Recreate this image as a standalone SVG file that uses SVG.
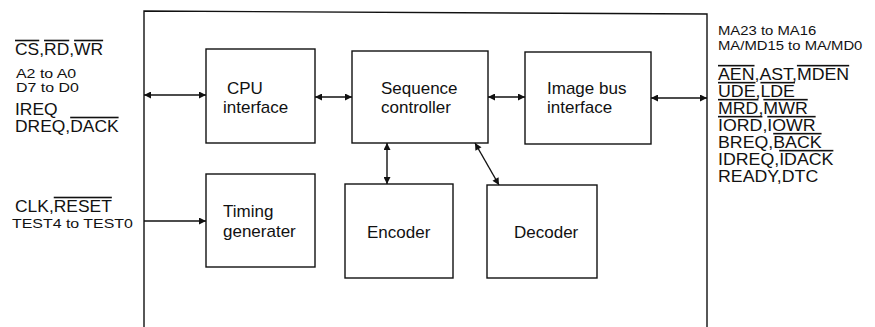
<svg xmlns="http://www.w3.org/2000/svg" width="875" height="327" viewBox="0 0 875 327">
<defs>
<marker id="ah" viewBox="0 0 10 10" refX="10" refY="5" markerWidth="8" markerHeight="7" markerUnits="userSpaceOnUse" orient="auto-start-reverse">
<path d="M0,0 L10,5 L0,10 Z" fill="#111"/>
</marker>
</defs>
<style>
.box{fill:#fff;stroke:#111;stroke-width:1.4}
.frame{fill:none;stroke:#111;stroke-width:1.4}
.con{fill:none;stroke:#111;stroke-width:1.4}
text{font-family:"Liberation Sans",Arial,sans-serif;fill:#111}
.lbl{font-size:17px}
.big{font-size:16px}
.sm{font-size:13.5px}
.ov{text-decoration:overline}
</style>
<rect width="875" height="327" fill="#fff"/>
<path id="frame" class="frame" d="M144,327 L144,11 L707,14 L707,327"/>
<g id="cpu-interface">
<rect class="box" x="206" y="49" width="109" height="94"/>
<text class="lbl" x="227" y="94">CPU</text>
<text class="lbl" x="223" y="113">interface</text>
</g>
<g id="sequence-controller">
<rect class="box" x="352" y="51" width="136" height="92"/>
<text class="lbl" x="381" y="94">Sequence</text>
<text class="lbl" x="381" y="113">controller</text>
</g>
<g id="image-bus-interface">
<rect class="box" x="525" y="52" width="126" height="92"/>
<text class="lbl" x="547" y="94">Image bus</text>
<text class="lbl" x="547" y="113">interface</text>
</g>
<g id="timing-generater">
<rect class="box" x="206" y="174" width="109" height="93"/>
<text class="lbl" x="223" y="217">Timing</text>
<text class="lbl" x="223" y="237">generater</text>
</g>
<g id="encoder">
<rect class="box" x="345" y="184" width="108" height="94"/>
<text class="lbl" x="367" y="238">Encoder</text>
</g>
<g id="decoder">
<rect class="box" x="487" y="185" width="110" height="93"/>
<text class="lbl" x="514" y="238">Decoder</text>
</g>
<g id="connectors">
<line class="con" x1="144" y1="95" x2="206" y2="95" marker-start="url(#ah)" marker-end="url(#ah)"/>
<line class="con" x1="315" y1="97" x2="352" y2="97" marker-start="url(#ah)" marker-end="url(#ah)"/>
<line class="con" x1="488" y1="97" x2="525" y2="97" marker-start="url(#ah)" marker-end="url(#ah)"/>
<line class="con" x1="651" y1="98" x2="707" y2="98" marker-start="url(#ah)" marker-end="url(#ah)"/>
<line class="con" x1="144" y1="221" x2="206" y2="221" marker-end="url(#ah)"/>
<line class="con" x1="387" y1="143" x2="387" y2="184" marker-start="url(#ah)" marker-end="url(#ah)"/>
<line class="con" x1="475" y1="143" x2="499" y2="185" marker-start="url(#ah)" marker-end="url(#ah)"/>
</g>
<g id="cpu-signals">
<text class="big" transform="translate(15,55) scale(1.09,1)"><tspan class="ov">CS</tspan>,<tspan class="ov">RD</tspan>,<tspan class="ov">WR</tspan></text>
<text class="sm" transform="translate(16,78) scale(1.18,1)">A2 to A0</text>
<text class="sm" transform="translate(16,92) scale(1.18,1)">D7 to D0</text>
<text class="big" transform="translate(15,115) scale(1.09,1)">IREQ</text>
<text class="big" transform="translate(15,132) scale(1.09,1)">DREQ,<tspan class="ov">DACK</tspan></text>
</g>
<g id="clock-signals">
<text class="big" transform="translate(15,212) scale(1.09,1)">CLK,<tspan class="ov">RESET</tspan></text>
<text class="sm" transform="translate(12,228) scale(1.18,1)">TEST4 to TEST0</text>
</g>
<g id="image-bus-signals">
<text class="sm" transform="translate(718,35) scale(1.1,1)">MA23 to MA16</text>
<text class="sm" transform="translate(718,50) scale(1.1,1)">MA/MD15 to MA/MD0</text>
<text class="big" transform="translate(718,80) scale(1.11,1)"><tspan class="ov">AEN</tspan>,AST,<tspan class="ov">MDEN</tspan></text>
<text class="big" transform="translate(718,97) scale(1.11,1)"><tspan class="ov">UDE</tspan>,<tspan class="ov">LDE</tspan></text>
<text class="big" transform="translate(718,114) scale(1.11,1)"><tspan class="ov">MRD</tspan>,<tspan class="ov">MWR</tspan></text>
<text class="big" transform="translate(718,131) scale(1.11,1)"><tspan class="ov">IORD</tspan>,<tspan class="ov">IOWR</tspan></text>
<text class="big" transform="translate(718,148) scale(1.11,1)">BREQ,<tspan class="ov">BACK</tspan></text>
<text class="big" transform="translate(718,165) scale(1.11,1)">IDREQ,<tspan class="ov">IDACK</tspan></text>
<text class="big" transform="translate(718,182) scale(1.11,1)">READY,DTC</text>
</g>
</svg>
